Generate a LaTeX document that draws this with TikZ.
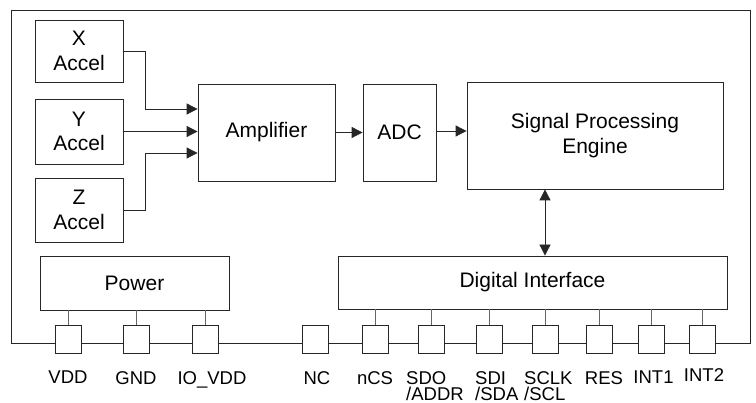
\documentclass[tikz,border=0pt]{standalone}
\usepackage{fontspec}
\setmainfont{Liberation Sans}
\usetikzlibrary{arrows.meta}
\begin{document}
\begin{tikzpicture}[x=1pt,y=-1pt,
  lw/.style={line width=0.8pt, draw=black!85},
  blk/.style={lw, rectangle, inner sep=0pt, align=center,
    font=\fontsize{21}{24.5}\selectfont},
  pinbox/.style={lw, rectangle, fill=white, minimum width=26pt, minimum height=28pt, inner sep=0pt},
  lbl/.style={inner sep=0pt, align=left, font=\fontsize{18.5}{16.5}\selectfont},
  arr/.style={lw, -{Triangle[length=11pt,width=11pt]}},
  darr/.style={lw, {Triangle[length=11pt,width=11pt]}-{Triangle[length=11pt,width=11pt]}},
  conn/.style={line width=0.8pt, draw=black!60}
]
\useasboundingbox (0,0) rectangle (756,403);
% outer frame
\node[lw, rectangle, inner sep=0pt, minimum width=739pt, minimum height=333pt] (frame) at (380.5,176.5) {};
% blocks
\node[blk, minimum width=88pt, minimum height=62pt] (X) at (79,51) {X\\Accel};
\node[blk, minimum width=88pt, minimum height=65pt] (Y) at (79,131.5) {Y\\Accel};
\node[blk, minimum width=88pt, minimum height=64pt] (Z) at (79,210) {Z\\Accel};
\node[blk, minimum width=137pt, minimum height=97pt] (Amp) at (266.5,132.5) {Amplifier};
\node[blk, minimum width=73pt, minimum height=97pt] (ADC) at (399.5,132.5) {ADC};
\node[blk, minimum width=256pt, minimum height=107pt] (SPE) at (595,135.5) {Signal Processing\\Engine};
\node[blk, minimum width=189pt, minimum height=54pt] (Pow) at (134.5,283) {Power};
\node[blk, minimum width=389pt, minimum height=53pt] (DI) at (532.5,282.5) {Digital Interface};
% arrows
\draw[arr] (X.east) -- ++(22,0) |- ([yshift=23.5pt]Amp.west);
\draw[arr] (Y.east) -- (Y.east -| Amp.west);
\draw[arr] (Z.east) -- ++(22,0) |- ([yshift=-20.5pt]Amp.west);
\draw[arr] (Amp.east) -- (ADC.west);
\draw[arr] ([yshift=1.5pt]ADC.east) -- ([yshift=1.5pt]ADC.east -| SPE.west);
\draw[darr] ([xshift=-50pt]SPE.south) -- ([xshift=-50pt]SPE.south |- DI.north);
% pins
\foreach \n/\x in {vdd/68, gnd/136.5, iovdd/205, nc/315, ncs/375.5, sdo/431.5, sdi/489, sclk/545.5, res/599.5, intA/651, intB/702}{
  \node[pinbox] (\n) at (\x,339) {};
}
\foreach \n in {vdd, gnd, iovdd}{
  \draw[conn] (\n.north) -- (\n.north |- Pow.south);
}
\foreach \n in {ncs, sdo, sdi, sclk, res, intA, intB}{
  \draw[conn] (\n.north) -- (\n.north |- DI.south);
}
% labels
\node[lbl, anchor=north] (lvdd) at (68,371) {VDD};
\node[lbl, anchor=north] (lgnd) at (136,371) {GND};
\node[lbl, anchor=north] (liovdd) at (212,371) {IO\_VDD};
\node[lbl, anchor=north] (lnc) at (317,371) {NC};
\node[lbl, anchor=north] (lncs) at (375,371) {nCS};
\node[lbl, anchor=north west] (lsdo) at (406,371) {SDO\\/ADDR};
\node[lbl, anchor=north west] (lsdi) at (475,371) {SDI\\/SDA};
\node[lbl, anchor=north west] (lsclk) at (524,371) {SCLK\\/SCL};
\node[lbl, anchor=north] (lres) at (604,371) {RES};
\node[lbl, anchor=north] (lint1) at (653.5,371) {INT1};
\node[lbl, anchor=north] (lint2) at (704,368) {INT2};
\end{tikzpicture}
\end{document}
